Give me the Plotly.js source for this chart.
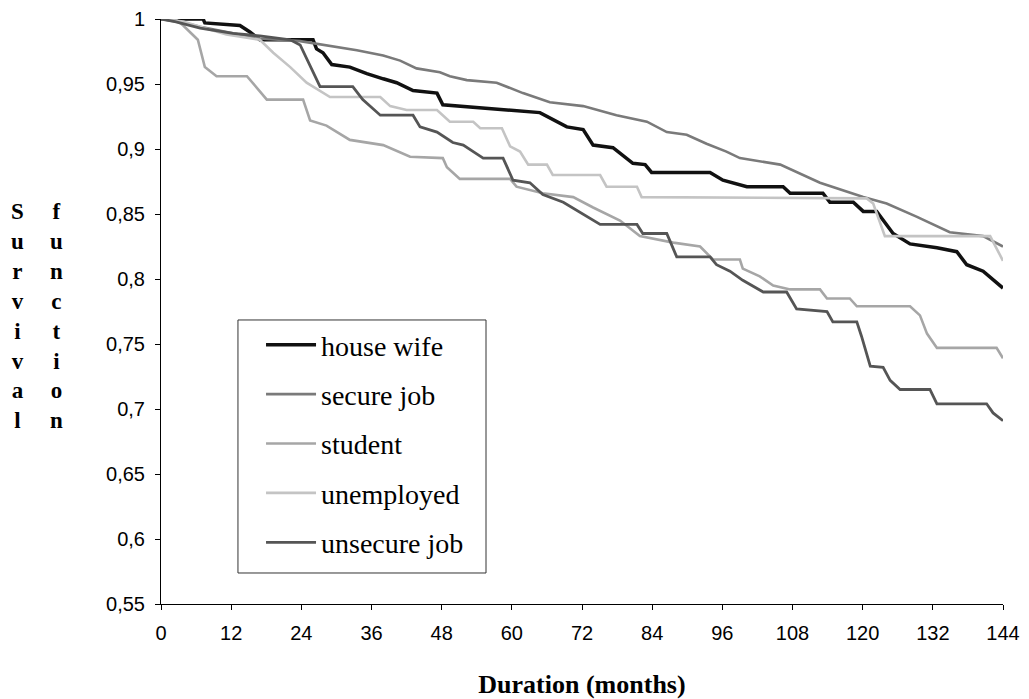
<!DOCTYPE html>
<html>
<head>
<meta charset="utf-8">
<script src="https://cdn.plot.ly/plotly-3.0.1.min.js"></script>
<style>html,body{margin:0;padding:0;background:#fff;}#chart{width:1029px;height:699px;}</style>
</head>
<body>
<div id="chart"></div>
<script>
// Kaplan-Meier survival estimates
var houseWifeMonths = [0,7.2,7.5,13.5,15.2,16.9,26.0,26.6,27.7,29.2,32.3,35.2,38.0,40.3,43.1,47.2,48.2,60.2,64.8,69.4,72.2,73.9,77.3,80.7,82.8,83.9,93.9,96.1,100.2,106.4,107.6,113.2,114.4,118.4,120.1,122.4,125.2,128.1,132.7,136.1,137.8,140.6,144];
var houseWifeSurv   = [1,1,0.997,0.995,0.990,0.984,0.984,0.977,0.974,0.965,0.963,0.958,0.954,0.951,0.945,0.943,0.934,0.930,0.928,0.917,0.915,0.903,0.901,0.889,0.888,0.882,0.882,0.876,0.871,0.871,0.866,0.866,0.859,0.859,0.852,0.852,0.835,0.827,0.824,0.821,0.811,0.806,0.793];

var secureJobMonths = [0,5,6.7,12.3,16.9,23.8,28.3,33.5,38.0,40.9,43.7,47.7,49.4,52.3,57.4,61.9,66.5,72.2,77.9,83.1,86.5,89.9,93.3,96.7,99.0,105.9,112.7,120.1,124.1,129.2,134.9,140.6,144];
var secureJobSurv   = [1,0.996,0.994,0.989,0.985,0.983,0.980,0.976,0.972,0.968,0.962,0.959,0.956,0.953,0.951,0.943,0.936,0.933,0.926,0.921,0.913,0.911,0.904,0.898,0.893,0.888,0.874,0.863,0.858,0.848,0.836,0.833,0.825];

var studentMonths = [0,2.4,3.8,6.3,7.5,9.5,14.7,18.1,24.3,25.5,28.3,32.3,38.0,42.6,48.2,48.9,51.1,59.7,60.8,65.3,70.5,73.9,78.5,81.9,87.6,92.2,94.4,99.0,99.5,102.4,104.7,107.6,112.7,113.9,117.8,119.0,128.1,129.8,131.0,132.7,142.9,144];
var studentSurv   = [1,1,0.995,0.984,0.963,0.956,0.956,0.938,0.938,0.922,0.918,0.907,0.903,0.894,0.893,0.886,0.877,0.877,0.871,0.866,0.863,0.855,0.845,0.833,0.828,0.825,0.815,0.815,0.808,0.802,0.795,0.792,0.792,0.785,0.785,0.779,0.779,0.772,0.758,0.747,0.747,0.739];

var unemployedMonths = [0,3.8,6.7,11.2,16.9,19.2,22.1,24.9,28.9,37.5,39.2,42.0,47.2,49.4,53.4,54.6,58.3,59.7,61.4,62.8,66.0,67.0,75.1,76.2,81.4,82.2,120.7,121.8,123.8,141.8,144];
var unemployedSurv   = [1,0.998,0.994,0.988,0.984,0.974,0.963,0.951,0.940,0.940,0.933,0.930,0.930,0.921,0.921,0.916,0.916,0.902,0.898,0.888,0.888,0.880,0.880,0.871,0.871,0.863,0.862,0.858,0.833,0.833,0.814];

var unsecureJobMonths = [0,2.4,6.7,12.3,16.9,22.1,23.8,27.2,32.8,34.5,37.5,43.1,44.3,47.2,49.9,51.7,53.4,55.1,58.5,60.2,63.1,65.3,68.8,71.1,72.8,75.1,81.4,82.4,86.5,88.2,93.9,95.0,97.3,99.5,103.0,107.0,108.7,113.9,114.9,119.0,119.8,121.3,123.5,124.7,126.4,131.5,132.7,141.2,142.3,144];
var unsecureJobSurv   = [1,0.998,0.993,0.989,0.987,0.984,0.980,0.948,0.948,0.938,0.926,0.926,0.917,0.913,0.905,0.903,0.898,0.893,0.893,0.876,0.874,0.865,0.859,0.853,0.848,0.842,0.842,0.835,0.835,0.817,0.817,0.811,0.806,0.799,0.790,0.790,0.777,0.775,0.767,0.767,0.756,0.733,0.732,0.722,0.715,0.715,0.704,0.704,0.697,0.691];

var seriesNames = ["house wife","secure job","student","unemployed","unsecure job"];
var xTickVals = [0,12,24,36,48,60,72,84,96,108,120,132,144];
var yTickVals = [0.55,0.6,0.65,0.7,0.75,0.8,0.85,0.9,0.95,1];
var yTickText = ["0,55","0,6","0,65","0,7","0,75","0,8","0,85","0,9","0,95","1"];

var seriesX = [houseWifeMonths, secureJobMonths, studentMonths, unemployedMonths, unsecureJobMonths];
var seriesY = [houseWifeSurv, secureJobSurv, studentSurv, unemployedSurv, unsecureJobSurv];
var colors = ["#111111","#7a7a7a","#a6a6a6","#c4c4c4","#555555"];
var widths = [3.5,2.6,2.6,2.6,2.8];

var traces = seriesNames.map(function(n,i){
  return {x: seriesX[i], y: seriesY[i], name: n, type: "scatter", mode: "lines",
          legendgroup: "g"+i,
          line: {color: colors[i], width: widths[i], shape: "linear"}};
});

var serif = "Liberation Serif, Times New Roman, serif";
var sans = "Liberation Sans, Arial, sans-serif";
var layout = {
  width: 1029, height: 699,
  margin: {l:161, r:26, t:19, b:95},
  paper_bgcolor: "#ffffff", plot_bgcolor: "#ffffff",
  showlegend: true,
  legend: {x:0.1188, y:0.4855, xanchor:"left", yanchor:"top",
           borderwidth:0, bgcolor:"rgba(0,0,0,0)",
           font:{family: serif, size:28, color:"#000"},
           traceorder:"grouped", tracegroupgap:10, itemwidth:50},
  shapes: [
    {type:"rect", xref:"paper", yref:"paper", x0:0.0914, x1:0.386, y0:0.053, y1:0.4855,
     line:{color:"#333", width:1}, fillcolor:"#ffffff", layer:"above"}
  ],
  xaxis: {range:[0,144], tickvals:xTickVals, ticks:"outside", ticklen:5, tickcolor:"#000",
          ticklabelstandoff:6,
          showline:true, linecolor:"#000", linewidth:1, showgrid:false, zeroline:false,
          tickfont:{family:sans, size:20, color:"#000"},
          title:{text:"<b>Duration (months)</b>", font:{family:serif, size:26, color:"#000"}, standoff:32}},
  yaxis: {range:[0.55,1], tickvals:yTickVals, ticktext:yTickText, ticks:"outside", ticklen:5, tickcolor:"#000",
          ticklabelstandoff:6,
          showline:true, linecolor:"#000", linewidth:1, showgrid:false, zeroline:false,
          tickfont:{family:sans, size:20, color:"#000"}},
  annotations: [
    {text:"<b>S<br>u<br>r<br>v<br>i<br>v<br>a<br>l</b>", xref:"paper", yref:"paper", x:-0.171, y:0.696,
     xanchor:"center", yanchor:"top", showarrow:false, align:"center", font:{family:serif, size:23, color:"#000"}},
    {text:"<b>f<br>u<br>n<br>c<br>t<br>i<br>o<br>n</b>", xref:"paper", yref:"paper", x:-0.124, y:0.696,
     xanchor:"center", yanchor:"top", showarrow:false, align:"center", font:{family:serif, size:23, color:"#000"}}
  ]
};
Plotly.newPlot("chart", traces, layout, {displayModeBar:false, staticPlot:true});
</script>
</body>
</html>
